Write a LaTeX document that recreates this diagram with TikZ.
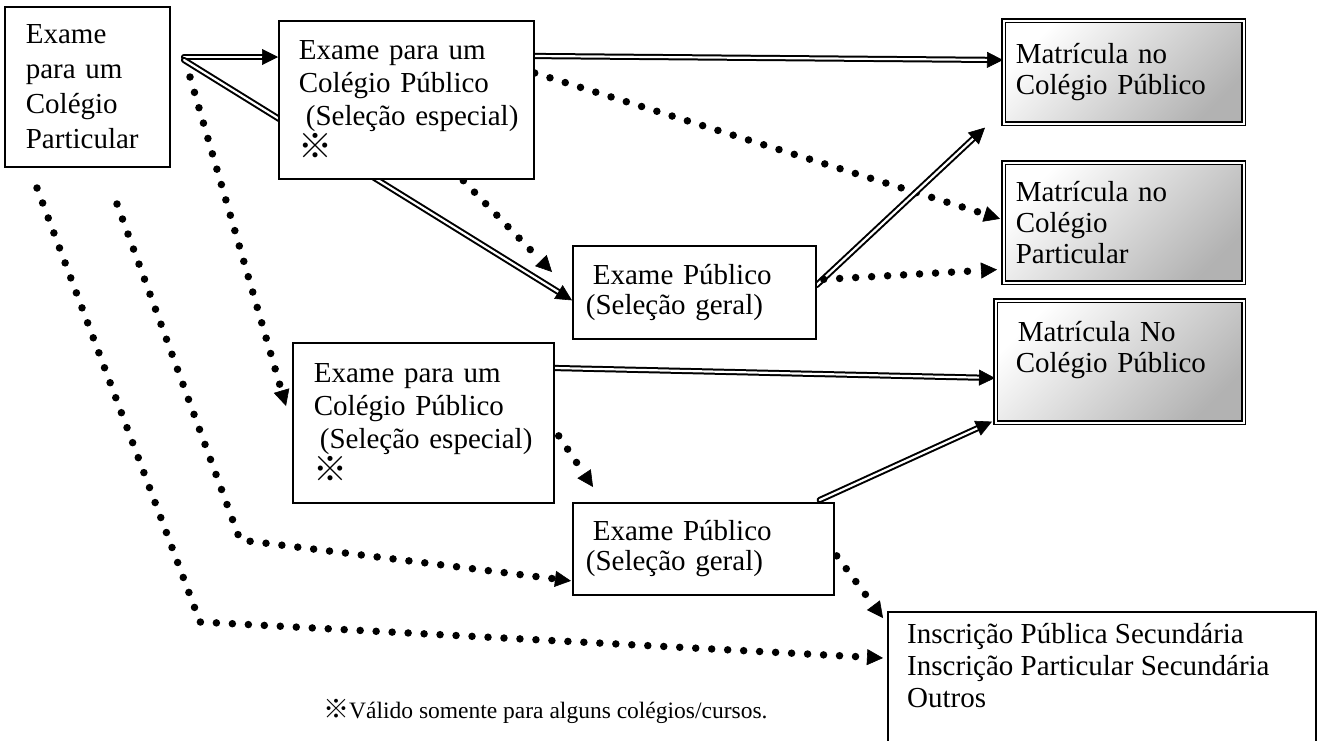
\documentclass[tikz,border=0pt]{standalone}
\usepackage{fontspec}
\setmainfont{Liberation Serif}
\newfontfamily\cjkfont{Noto Sans CJK JP}
\usetikzlibrary{arrows.meta,calc,backgrounds}
\newcommand\rmk{{\cjkfont\fontsize{26}{26}\selectfont ※}}
\newcommand\rmksmall{{\cjkfont\fontsize{34}{34}\selectfont ※}}
\newcommand\DblArrow[2]{\draw[dblline, shorten >=12pt] (#1) -- (#2); \draw[arrowtip] ($(#2)!14pt!(#1)$) -- (#2);}
\newcommand\DotArrow[2]{\draw[dotline, shorten >=17pt] (#1) -- (#2); \draw[arrowtip] ($(#2)!14pt!(#1)$) -- (#2);}
\begin{document}
\begin{tikzpicture}[x=1pt,y=-1pt,
  box/.style={draw, line width=1.7pt, fill=white, rectangle, anchor=north west, align=left, inner ysep=0pt},
  mbox/.style={box, double=white, line width=1.6pt, double distance=1.6pt,
     top color=white, bottom color=black!30, shading angle=45,
     font=\fontsize{29}{31}\selectfont},
  dblline/.style={draw, double=white, double distance=2.2pt, line width=2pt, line cap=round},
  arrowtip/.style={-{Triangle[length=16pt,width=16pt]}, line width=0.6pt},
  dotline/.style={line width=7.5pt, line cap=round, dash pattern=on 0pt off 16pt}
]
\useasboundingbox (0,0) rectangle (1319,740);

% nodes
\node[box, minimum width=165pt, minimum height=160pt, inner xsep=21pt, text width=123pt,
      font=\fontsize{29}{35}\selectfont] (A) at (4,6) {Exame\\para um\\Colégio\\Particular};
\node[box, minimum width=255pt, minimum height=158pt, inner xsep=20pt, text width=215pt,
      font=\fontsize{29}{33}\selectfont] (B1) at (278,20)
      {Exame para um\\Colégio Público\\\mbox{\hspace*{7pt}(Seleção especial)}\\\rmksmall};
\node[box, minimum width=243pt, minimum height=93pt, inner xsep=13pt, text width=217pt,
      font=\fontsize{29}{30}\selectfont] (C1) at (572,245)
      {\hspace*{7pt}Exame Público\\(Seleção geral)};
\node[box, minimum width=261pt, minimum height=160pt, inner xsep=21pt, text width=219pt,
      font=\fontsize{29}{33}\selectfont] (B2) at (292,342)
      {Exame para um\\Colégio Público\\\mbox{\hspace*{6pt}(Seleção especial)}\\\rmksmall};
\node[box, minimum width=261pt, minimum height=92pt, inner xsep=13pt, text width=235pt,
      font=\fontsize{29}{30}\selectfont] (C2) at (572,502)
      {\hspace*{7pt}Exame Público\\(Seleção geral)};
\node[mbox, minimum width=240pt, minimum height=103pt, inner xsep=12pt, text width=216pt] (M1) at (1003,20)
      {Matrícula no\\Colégio Público};
\node[mbox, minimum width=240pt, minimum height=120pt, inner xsep=12pt, text width=216pt] (M2) at (1003,162)
      {Matrícula no\\Colégio\\Particular};
\node[mbox, minimum width=248pt, minimum height=122pt, inner xsep=20pt, text width=208pt] (M3) at (995,300)
      {\hspace*{2pt}Matrícula No\\Colégio Público\\[-2pt]\mbox{}};
\node[box, minimum width=428pt, minimum height=150pt] (I) at (887,611) {};
\node[anchor=north west, align=left, inner sep=0pt, font=\fontsize{29}{32}\selectfont] (It)
      at ($(I.north west)+(20,12)$)
      {Inscrição Pública Secundária\\Inscrição Particular Secundária\\Outros};
\node[anchor=west, inner sep=0pt, font=\fontsize{23.5}{26}\selectfont] (note) at (323,711)
      {\rmk Válido somente para alguns colégios/cursos.};

% coordinates
\coordinate (oA) at (184,57);
\coordinate (oB) at (184,60);
\coordinate (oC) at (190,77);
\coordinate (e1) at (oA -| B1.west);
\coordinate (e2) at ($(C1.west)+(0,8)$);
\coordinate (e3) at ($(B2.north west)+(-6,64)$);
\coordinate (s4) at ($(B1.north east)+(0,36)$);
\coordinate (e4) at ($(M1.north west)+(0,40)$);
\coordinate (s5) at ($(B1.north east)+(0,53)$);
\coordinate (e5) at ($(M2.west)+(-3,-4)$);
\coordinate (s6) at ($(B1.south)+(57,1)$);
\coordinate (e6) at ($(C1.north west)+(-20,27)$);
\coordinate (s7) at ($(C1.north east)+(0,40)$);
\coordinate (e7) at ($(M1.south west)+(-18,3)$);
\coordinate (s8) at ($(C1.east)+(7,-13)$);
\coordinate (e8) at ($(M2.south west)+(-6,-14)$);
\coordinate (s9) at ($(B2.north east)+(0,26)$);
\coordinate (e9) at ($(M3.north west)+(0,78)$);
\coordinate (s10) at ($(B2.east)+(4,13)$);
\coordinate (e10) at ($(C2.north west)+(21,-15)$);
\coordinate (s11) at ($(C2.north east)+(-15,-2)$);
\coordinate (e11) at ($(M3.south west)+(-3,-2)$);
\coordinate (s12) at ($(C2.east)+(2,7)$);
\coordinate (e12) at ($(I.north west)+(-4,7)$);
\coordinate (s13) at (117,204);
\coordinate (k13) at (240,540);
\coordinate (e13) at ($(C2.west)+(-1,32)$);
\coordinate (s14) at (37,188);
\coordinate (k14) at (200,622);
\coordinate (e14) at ($(I.north west)+(-4,47)$);

\begin{pgfonlayer}{background}
\fill[white] (0,0) rectangle (1319,740);
\DblArrow{oA}{e1}
\DblArrow{oB}{e2}
\DotArrow{oC}{e3}
\DblArrow{s4}{e4}
\DotArrow{s5}{e5}
\DotArrow{s6}{e6}
\DblArrow{s7}{e7}
\DotArrow{s8}{e8}
\DblArrow{s9}{e9}
\DotArrow{s10}{e10}
\DblArrow{s11}{e11}
\DotArrow{s12}{e12}
\draw[dotline, shorten >=17pt] (s13) -- (k13) -- (e13);
\draw[arrowtip] ($(e13)!14pt!(k13)$) -- (e13);
\draw[dotline, shorten >=17pt] (s14) -- (k14) -- (e14);
\draw[arrowtip] ($(e14)!14pt!(k14)$) -- (e14);
\end{pgfonlayer}
\end{tikzpicture}
\end{document}
